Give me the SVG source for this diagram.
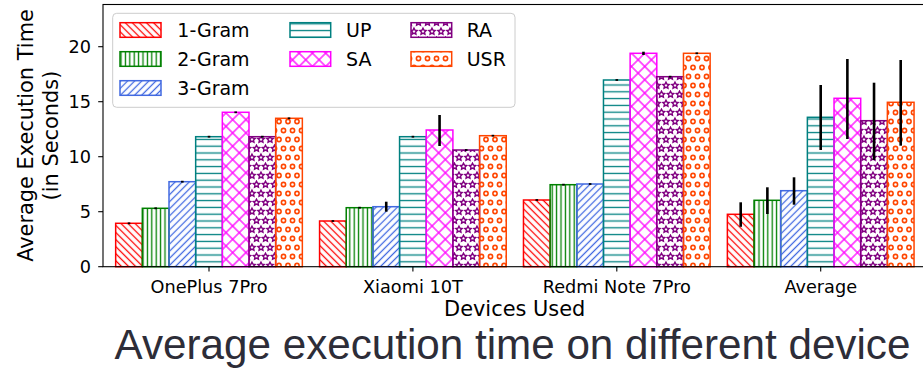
<svg xmlns="http://www.w3.org/2000/svg" xmlns:xlink="http://www.w3.org/1999/xlink" width="923" height="369" viewBox="0 0 923 369">
  <style>
    .txt { font-family: "DejaVu Sans", sans-serif; fill: #000; }
    .tick { font-size: 17.7px; }
    .lab { font-size: 20.9px; }
    .leg { font-size: 19px; }
    .title { font-family: "Liberation Sans", Arial, sans-serif; font-size: 42.2px; fill: #2d2d38; }
    .spine { fill: none; stroke: #000; stroke-width: 1.1; }
    .tk { stroke: #000; stroke-width: 1.1; }
    .bar { stroke-width: 1.5; }
    .s1 { stroke: #ff0000; fill: url(#p-back); }
    .s2 { stroke: #008000; fill: url(#p-vert); }
    .s3 { stroke: #4169e1; fill: url(#p-fwd); }
    .s4 { stroke: #008080; fill: url(#p-horiz); }
    .s5 { stroke: #ff00ff; fill: url(#p-cross); }
    .s6 { stroke: #800080; fill: url(#p-star); }
    .s7 { stroke: #ff4500; fill: url(#p-circ); }
    .err { stroke: #000; stroke-width: 2.6; }
  </style>
  <defs>
    <!-- hatch fills for the seven series -->
    <pattern id="p-back" patternUnits="userSpaceOnUse" width="5" height="5" patternTransform="rotate(-45)">
      <line x1="2.5" y1="-1" x2="2.5" y2="6" stroke="#ff0000" stroke-width="1.3"/>
    </pattern>
    <pattern id="p-vert" patternUnits="userSpaceOnUse" width="4.4" height="10">
      <line x1="2.2" y1="-1" x2="2.2" y2="11" stroke="#008000" stroke-width="1.3"/>
    </pattern>
    <pattern id="p-fwd" patternUnits="userSpaceOnUse" width="5" height="5" patternTransform="rotate(45)">
      <line x1="2.5" y1="-1" x2="2.5" y2="6" stroke="#4169e1" stroke-width="1.3"/>
    </pattern>
    <pattern id="p-horiz" patternUnits="userSpaceOnUse" width="10" height="6.8">
      <line x1="-1" y1="3.4" x2="11" y2="3.4" stroke="#008080" stroke-width="1.3"/>
    </pattern>
    <pattern id="p-cross" patternUnits="userSpaceOnUse" width="9.4" height="9.4" patternTransform="rotate(45)">
      <line x1="4.7" y1="-1" x2="4.7" y2="10.4" stroke="#ff00ff" stroke-width="1.3"/>
      <line x1="-1" y1="4.7" x2="10.4" y2="4.7" stroke="#ff00ff" stroke-width="1.3"/>
    </pattern>
    <path id="star" d="M0,-3 L0.882,-1.214 L2.853,-0.927 L1.427,0.464 L1.763,2.427 L0,1.5 L-1.763,2.427 L-1.427,0.464 L-2.853,-0.927 L-0.882,-1.214 Z"/>
    <pattern id="p-star" patternUnits="userSpaceOnUse" width="9" height="18">
      <g fill="none" stroke="#800080" stroke-width="1.3">
        <use xlink:href="#star" transform="translate(4.5,4.5) scale(1.1)"/>
        <use xlink:href="#star" transform="translate(0,13.5) scale(1.1)"/>
        <use xlink:href="#star" transform="translate(9,13.5) scale(1.1)"/>
      </g>
    </pattern>
    <pattern id="p-circ" patternUnits="userSpaceOnUse" width="9" height="18">
      <g fill="none" stroke="#ff4500" stroke-width="1.6">
        <circle cx="4.5" cy="4.5" r="2.1"/>
        <circle cx="0" cy="13.5" r="2.1"/>
        <circle cx="9" cy="13.5" r="2.1"/>
      </g>
    </pattern>
  </defs>

  <rect width="923" height="369" fill="#fff"/>

  <!-- bars, one group per series -->
  <g id="series-1gram" class="bar s1">
    <rect x="115.67" y="223.3" width="26.67" height="43.4"/>
    <rect x="319.57" y="221" width="26.67" height="45.7"/>
    <rect x="523.47" y="200" width="26.67" height="66.7"/>
    <rect x="727.37" y="214.3" width="26.67" height="52.4"/>
  </g>
  <g id="series-2gram" class="bar s2">
    <rect x="142.33" y="208.3" width="26.67" height="58.4"/>
    <rect x="346.23" y="207.7" width="26.67" height="59"/>
    <rect x="550.13" y="184.7" width="26.67" height="82"/>
    <rect x="754.03" y="200.3" width="26.67" height="66.4"/>
  </g>
  <g id="series-3gram" class="bar s3">
    <rect x="169" y="181.7" width="26.67" height="85"/>
    <rect x="372.9" y="206.7" width="26.67" height="60"/>
    <rect x="576.8" y="184" width="26.67" height="82.7"/>
    <rect x="780.7" y="190.7" width="26.67" height="76"/>
  </g>
  <g id="series-up" class="bar s4">
    <rect x="195.67" y="136.7" width="26.67" height="130"/>
    <rect x="399.57" y="136.7" width="26.67" height="130"/>
    <rect x="603.47" y="80" width="26.67" height="186.7"/>
    <rect x="807.37" y="117.3" width="26.67" height="149.4"/>
  </g>
  <g id="series-sa" class="bar s5">
    <rect x="222.33" y="112.3" width="26.67" height="154.4"/>
    <rect x="426.23" y="130" width="26.67" height="136.7"/>
    <rect x="630.13" y="53.3" width="26.67" height="213.4"/>
    <rect x="834.03" y="98.3" width="26.67" height="168.4"/>
  </g>
  <g id="series-ra" class="bar s6">
    <rect x="249" y="136.7" width="26.67" height="130"/>
    <rect x="452.9" y="150" width="26.67" height="116.7"/>
    <rect x="656.8" y="76.7" width="26.67" height="190"/>
    <rect x="860.7" y="120.7" width="26.67" height="146"/>
  </g>
  <g id="series-usr" class="bar s7">
    <rect x="275.67" y="118.3" width="26.67" height="148.4"/>
    <rect x="479.57" y="135.7" width="26.67" height="131"/>
    <rect x="683.47" y="53.3" width="26.67" height="213.4"/>
    <rect x="887.37" y="102.3" width="26.67" height="164.4"/>
  </g>

  <!-- error bars -->
  <g id="error-bars" class="err">
    <line x1="129" y1="222.4" x2="129" y2="224.2"/>
    <line x1="155.67" y1="207.4" x2="155.67" y2="209.2"/>
    <line x1="182.33" y1="180.8" x2="182.33" y2="182.6"/>
    <line x1="209" y1="135.8" x2="209" y2="137.6"/>
    <line x1="235.67" y1="111.4" x2="235.67" y2="113.2"/>
    <line x1="262.33" y1="135.8" x2="262.33" y2="137.6"/>
    <line x1="289" y1="117.4" x2="289" y2="119.2"/>

    <line x1="332.9" y1="220.1" x2="332.9" y2="221.9"/>
    <line x1="359.57" y1="206.8" x2="359.57" y2="208.6"/>
    <line x1="386.23" y1="201.7" x2="386.23" y2="211.7"/>
    <line x1="412.9" y1="135.8" x2="412.9" y2="137.6"/>
    <line x1="439.57" y1="115" x2="439.57" y2="146"/>
    <line x1="466.23" y1="149.1" x2="466.23" y2="150.9"/>
    <line x1="492.9" y1="134.8" x2="492.9" y2="136.6"/>

    <line x1="536.8" y1="199.1" x2="536.8" y2="200.9"/>
    <line x1="563.47" y1="183.8" x2="563.47" y2="185.6"/>
    <line x1="590.13" y1="183.1" x2="590.13" y2="184.9"/>
    <line x1="616.8" y1="79.1" x2="616.8" y2="80.9"/>
    <line x1="643.47" y1="51.7" x2="643.47" y2="55"/>
    <line x1="670.13" y1="75.8" x2="670.13" y2="77.6"/>
    <line x1="696.8" y1="52.4" x2="696.8" y2="54.2"/>

    <line x1="740.7" y1="202.3" x2="740.7" y2="226.8"/>
    <line x1="767.37" y1="187.3" x2="767.37" y2="214"/>
    <line x1="794.03" y1="177.3" x2="794.03" y2="204.7"/>
    <line x1="820.7" y1="85" x2="820.7" y2="150"/>
    <line x1="847.37" y1="59" x2="847.37" y2="139"/>
    <line x1="874.03" y1="82.7" x2="874.03" y2="160"/>
    <line x1="900.7" y1="60" x2="900.7" y2="145.7"/>
  </g>

  <!-- axes frame, ticks and labels -->
  <g id="axes">
    <rect class="spine" x="103" y="4.5" width="830" height="262.2"/>
    <g class="tk">
      <line x1="98.2" y1="266.7" x2="103" y2="266.7"/>
      <line x1="98.2" y1="211.7" x2="103" y2="211.7"/>
      <line x1="98.2" y1="156.7" x2="103" y2="156.7"/>
      <line x1="98.2" y1="101.7" x2="103" y2="101.7"/>
      <line x1="98.2" y1="46.7" x2="103" y2="46.7"/>
      <line x1="209" y1="266.7" x2="209" y2="271.5"/>
      <line x1="412.9" y1="266.7" x2="412.9" y2="271.5"/>
      <line x1="616.8" y1="266.7" x2="616.8" y2="271.5"/>
      <line x1="820.7" y1="266.7" x2="820.7" y2="271.5"/>
    </g>
    <g class="txt tick" text-anchor="end">
      <text x="91" y="273.1">0</text>
      <text x="91" y="218.1">5</text>
      <text x="91" y="163.1">10</text>
      <text x="91" y="108.1">15</text>
      <text x="91" y="53.1">20</text>
    </g>
    <g class="txt tick" text-anchor="middle">
      <text x="209" y="293">OnePlus 7Pro</text>
      <text x="412.9" y="293">Xiaomi 10T</text>
      <text x="616.8" y="293">Redmi Note 7Pro</text>
      <text x="820.7" y="293">Average</text>
    </g>
    <text class="txt lab" x="514.7" y="316" text-anchor="middle">Devices Used</text>
    <g class="txt lab" text-anchor="middle">
      <text transform="translate(33.4,135.5) rotate(-90)">Average Execution Time</text>
      <text transform="translate(57.8,135.5) rotate(-90)">(in Seconds)</text>
    </g>
  </g>

  <!-- legend -->
  <g id="legend">
    <rect x="112.7" y="13.3" width="402.3" height="94" rx="4" fill="#fff" fill-opacity="0.8" stroke="#cccccc" stroke-width="1"/>
    <g class="bar">
      <rect class="s1" x="120" y="22.7" width="41" height="14.6"/>
      <rect class="s2" x="120" y="51.7" width="41" height="14.6"/>
      <rect class="s3" x="120" y="80.7" width="41" height="14.6"/>
      <rect class="s4" x="290" y="22.7" width="40.7" height="14.6"/>
      <rect class="s5" x="290" y="51.7" width="40.7" height="14.6"/>
      <rect class="s6" x="411" y="22.7" width="40.7" height="14.6"/>
      <rect class="s7" x="411" y="51.7" width="40.7" height="14.6"/>
    </g>
    <g class="txt leg">
      <text x="177.3" y="37.3">1-Gram</text>
      <text x="177.3" y="66.3">2-Gram</text>
      <text x="177.3" y="95.3">3-Gram</text>
      <text x="346" y="37.3">UP</text>
      <text x="346" y="66.3">SA</text>
      <text x="466.7" y="37.3">RA</text>
      <text x="466.7" y="66.3">USR</text>
    </g>
  </g>

  <text class="title" x="512.5" y="359" text-anchor="middle">Average execution time on different device</text>
</svg>
